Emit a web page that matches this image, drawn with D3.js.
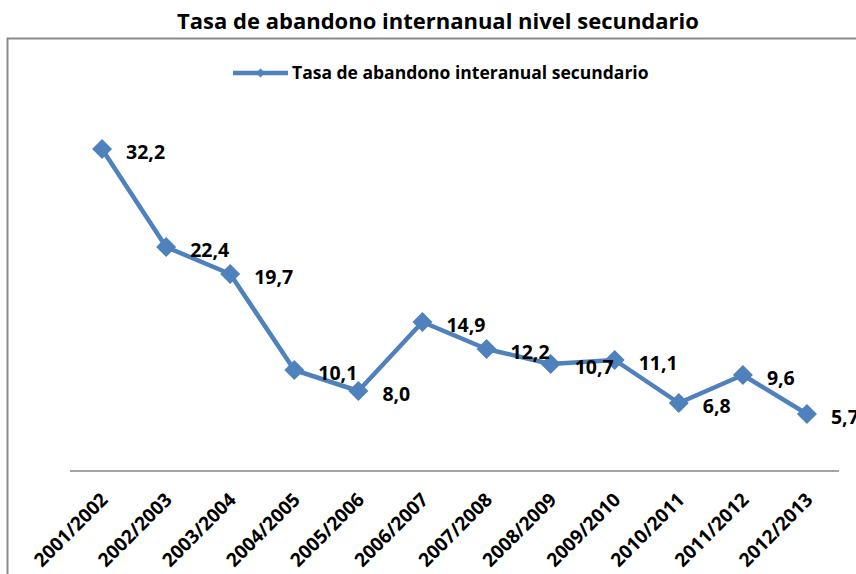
<!DOCTYPE html>
<html>
<head>
<meta charset="utf-8">
<script src="https://cdn.jsdelivr.net/npm/d3@7"></script>
<style>
  body { margin: 0; background: #fff; }
  svg { display: block; font-family: "Open Sans", sans-serif; }
</style>
</head>
<body>
<div id="chart"></div>
<script>
const periods = ["2001/2002", "2002/2003", "2003/2004", "2004/2005", "2005/2006", "2006/2007",
                 "2007/2008", "2008/2009", "2009/2010", "2010/2011", "2011/2012", "2012/2013"];
const rates = [32.2, 22.4, 19.7, 10.1, 8.0, 14.9, 12.2, 10.7, 11.1, 6.8, 9.6, 5.7];
const seriesName = "Tasa de abandono interanual secundario";
const chartTitle = "Tasa de abandono internanual nivel secundario";

const width = 856, height = 574;
const blue = "#4F81BD";

const svg = d3.select("#chart").append("svg")
    .attr("width", width)
    .attr("height", height);

// chart frame (runs off the right and bottom edges)
svg.append("rect")
    .attr("x", 7.5).attr("y", 38.5)
    .attr("width", 900).attr("height", 600)
    .attr("fill", "#fff")
    .attr("stroke", "#8a8a8a")
    .attr("stroke-width", 2);

svg.append("text")
    .attr("x", 438).attr("y", 29)
    .attr("text-anchor", "middle")
    .attr("font-weight", "bold")
    .attr("font-size", 22)
    .text(chartTitle);

// legend
const legend = svg.append("g").attr("transform", "translate(233,73)");
legend.append("line")
    .attr("x1", 0).attr("x2", 55)
    .attr("stroke", blue).attr("stroke-width", 4.5);
legend.append("path")
    .attr("d", d3.symbol(d3.symbolSquare, 40)())
    .attr("transform", "translate(27.5,0) rotate(45)")
    .attr("fill", blue);
legend.append("text")
    .attr("x", 59).attr("dy", "0.35em")
    .attr("font-weight", "bold")
    .attr("font-size", 17.5)
    .text(seriesName);

const x = d3.scaleBand()
    .domain(periods)
    .range([70, 839])
    .padding(0);

const y = d3.scaleLinear()
    .domain([0, 40])
    .range([471, 71]);

const cx = d => x(d) + x.bandwidth() / 2;

// category axis
svg.append("line")
    .attr("x1", 70).attr("x2", 839)
    .attr("y1", y(0)).attr("y2", y(0))
    .attr("stroke", "#868686").attr("stroke-width", 1.5);

svg.append("g").selectAll("text")
    .data(periods)
    .join("text")
    .attr("transform", d => `translate(${cx(d) + 7},${y(0) + 30}) rotate(-45)`)
    .attr("text-anchor", "end")
    .attr("font-weight", "bold")
    .attr("font-size", 19)
    .text(d => d);

const points = periods.map((p, i) => ({ period: p, value: rates[i] }));

const line = d3.line()
    .x(d => cx(d.period))
    .y(d => y(d.value));

svg.append("path")
    .datum(points)
    .attr("d", line)
    .attr("fill", "none")
    .attr("stroke", blue)
    .attr("stroke-width", 4.5)
    .attr("stroke-linejoin", "round");

svg.append("g").selectAll("path")
    .data(points)
    .join("path")
    .attr("d", d3.symbol(d3.symbolSquare, 200)())
    .attr("transform", d => `translate(${cx(d.period)},${y(d.value)}) rotate(45)`)
    .attr("fill", blue);

svg.append("g").selectAll("text")
    .data(points)
    .join("text")
    .attr("x", d => cx(d.period) + 24)
    .attr("y", d => y(d.value) + 3)
    .attr("dy", "0.35em")
    .attr("font-weight", "bold")
    .attr("font-size", 19.5)
    .text(d => d.value.toFixed(1).replace(".", ","));
</script>
</body>
</html>
